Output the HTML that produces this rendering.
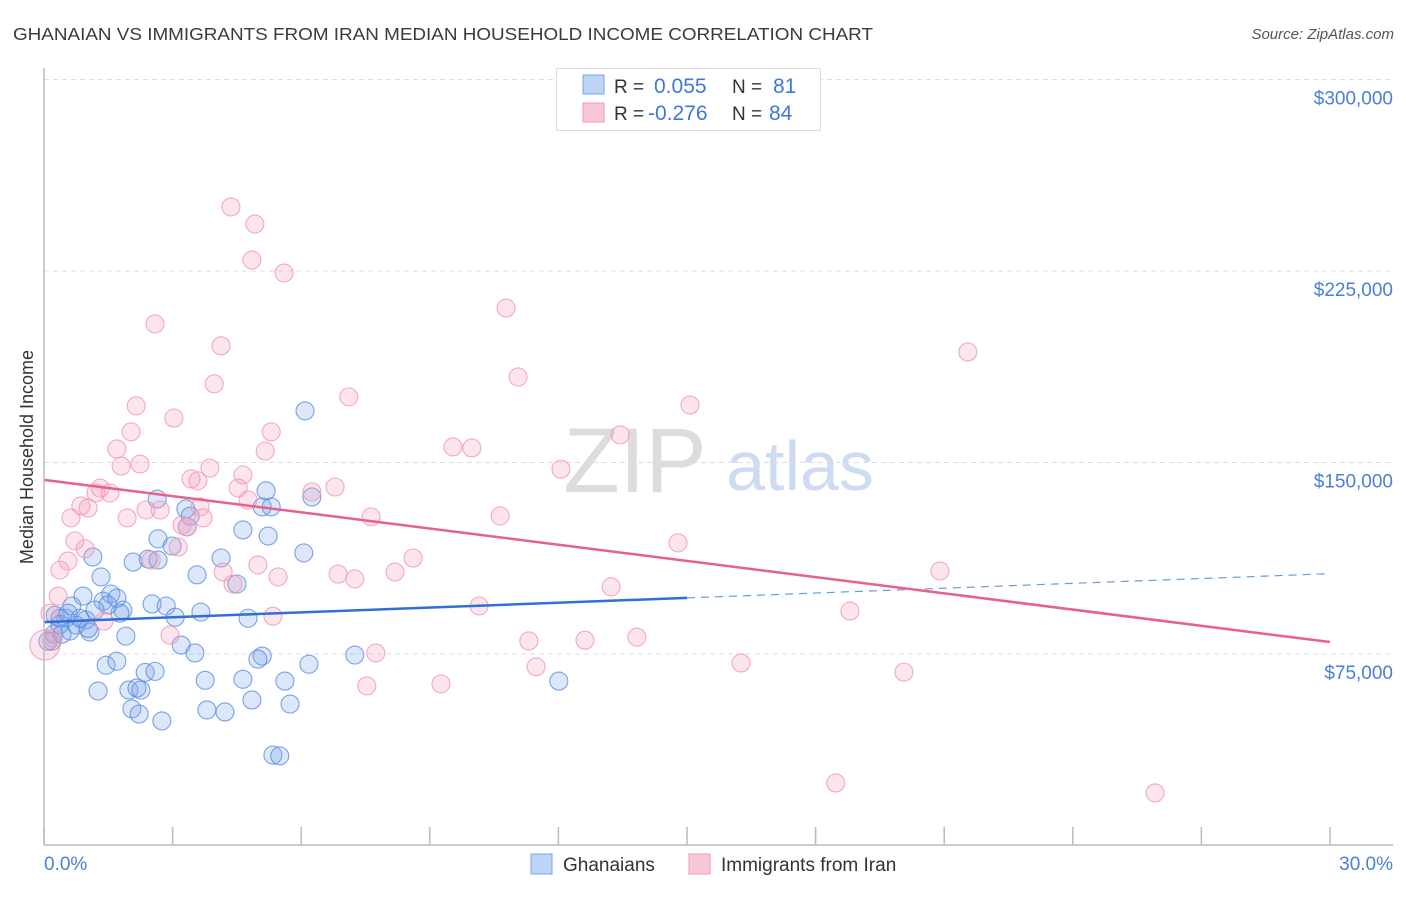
<!DOCTYPE html>
<html><head><meta charset="utf-8"><style>
body{margin:0;background:#fff;font-family:"Liberation Sans",sans-serif;}
svg text{font-family:"Liberation Sans",sans-serif;}
</style></head><body>
<svg id="c" width="1406" height="892" xmlns="http://www.w3.org/2000/svg">
<text x="13" y="40" font-size="17.5" fill="#3a3a3a" textLength="860" lengthAdjust="spacingAndGlyphs">GHANAIAN VS IMMIGRANTS FROM IRAN MEDIAN HOUSEHOLD INCOME CORRELATION CHART</text>
<text x="1394" y="39" font-size="15" fill="#555" font-style="italic" text-anchor="end">Source: ZipAtlas.com</text>
<text x="33" y="457" font-size="18" fill="#333" text-anchor="middle" transform="rotate(-90 33 457)">Median Household Income</text>
<text x="635" y="492" font-size="92" fill="#dcdcdc" font-family="Liberation Serif" text-anchor="middle">ZIP</text>
<text x="800" y="490" font-size="70" fill="#cddcf2" text-anchor="middle">atlas</text>
<g id="grid"></g><g id="pts"></g><g id="lines"></g>
<line x1="44" y1="68" x2="44" y2="845" stroke="#bbb" stroke-width="1.5"/>
<line x1="44" y1="845" x2="1393" y2="845" stroke="#bbb" stroke-width="1.5"/>
<text x="44" y="870" font-size="19" fill="#4a7fd8">0.0%</text>
<text x="1393" y="870" font-size="19" fill="#4a7fd8" text-anchor="end">30.0%</text>
<g>
<rect x="556.5" y="68.5" width="264" height="62" fill="#fff" stroke="#ddd"/>
<rect x="583" y="75" width="21" height="19" fill="#bcd4f5" stroke="#7aa4e4"/>
<rect x="583" y="103" width="21" height="19" fill="#f9c8d6" stroke="#ee9ab4"/>
<text x="614" y="93" font-size="19" fill="#333">R = </text><text x="654" y="93" font-size="21" fill="#3f78d6">0.055</text>
<text x="732" y="93" font-size="19" fill="#333">N = </text><text x="773" y="93" font-size="21" fill="#3f78d6">81</text>
<text x="614" y="120" font-size="19" fill="#333">R = </text><text x="648" y="120" font-size="21" fill="#3f78d6">-0.276</text>
<text x="732" y="120" font-size="19" fill="#333">N = </text><text x="769" y="120" font-size="21" fill="#3f78d6">84</text>
</g>
<rect x="531" y="854" width="21" height="20" fill="#bcd4f5" stroke="#7aa4e4"/>
<text x="563" y="871" font-size="19" fill="#333">Ghanaians</text>
<rect x="689" y="854" width="21" height="20" fill="#f9c8d6" stroke="#ee9ab4"/>
<text x="721" y="871" font-size="19" fill="#333">Immigrants from Iran</text>
</svg>
<script>
const yTicks=[75000,150000,225000,300000];
const yTickLabels=["$75,000","$150,000","$225,000","$300,000"];
const xTicks=[0,3,6,9,12,15,18,21,24,27,30];
const blueX=[6.09,5.18,2.64,3.31,5.09,5.30,6.25,4.64,5.23,3.41,3.34,2.66,2.99,2.08,2.43,4.13,6.06,1.14,1.33,3.57,4.50,0.91,1.56,0.65,1.38,1.84,2.52,2.85,3.66,1.77,3.06,4.76,0.26,0.51,0.98,0.75,1.07,0.23,1.91,0.19,3.20,3.52,7.25,5.09,4.99,6.18,1.45,1.70,2.36,2.59,3.76,4.64,5.62,12.01,1.26,1.98,2.17,2.26,4.85,2.05,3.80,4.22,5.74,2.22,2.75,5.34,5.50,0.37,0.09,0.61,0.84,1.49,0.37,1.03,0.42,0.56,1.19,1.70,2.66];
const blueY=[170.2,138.9,135.7,131.8,132.6,132.6,136.5,123.6,121.2,129.0,124.8,120.1,117.3,111.0,112.2,112.6,114.6,113.0,105.2,106.0,102.4,97.7,98.5,93.8,95.7,92.2,94.6,93.8,91.4,91.0,89.4,89.0,90.2,89.0,88.3,86.3,83.6,82.8,82.0,80.0,78.5,75.4,74.6,74.2,73.0,71.0,70.6,72.2,67.8,68.2,64.7,65.1,64.4,64.4,60.5,60.9,61.7,60.9,57.0,53.5,53.1,52.3,55.4,51.5,48.8,35.4,35.1,89.0,80.0,84.0,89.0,94.2,86.6,85.0,82.8,91.0,92.2,96.9,111.8];
const pinkX=[4.36,4.92,4.85,5.60,2.59,4.13,10.78,3.97,11.06,21.55,7.11,2.15,15.07,3.03,2.03,5.30,13.44,1.70,5.16,9.54,9.98,2.24,1.80,3.87,4.64,12.06,3.43,3.59,1.31,1.54,1.21,4.53,6.25,6.79,0.86,1.03,2.71,2.38,3.64,4.76,0.63,1.94,7.63,10.64,3.22,3.34,0.72,0.96,3.13,2.50,0.56,0.37,8.61,4.99,4.18,4.41,5.46,6.86,7.25,8.19,14.79,20.90,0.33,13.23,10.15,5.34,18.80,1.40,0.14,2.94,11.31,12.62,13.83,7.74,11.48,16.26,20.06,7.53,9.26,0.02,18.47,25.92,0.21,3.71];
const pinkY=[250.1,243.4,229.3,224.2,204.3,195.7,210.5,180.8,183.5,193.3,175.7,172.2,172.5,167.4,162.0,162.0,160.8,155.3,154.5,156.1,155.7,149.4,148.6,147.8,145.1,147.4,143.6,142.8,140.0,138.1,138.1,140.0,138.5,140.4,133.0,132.2,131.4,131.4,132.6,135.3,128.3,128.3,128.7,129.1,125.5,124.8,119.3,116.2,116.9,111.8,111.4,107.9,112.6,109.9,107.1,102.4,105.2,106.3,104.4,107.1,118.5,107.5,97.7,101.3,93.8,89.8,91.8,87.9,91.0,82.4,80.1,80.4,81.6,75.4,70.0,71.5,67.9,62.5,63.3,78.5,24.5,20.6,81.2,128.3];
const blueTrend=[87.5,0.632];
const pinkTrend=[143.2,-2.117];
const blueSolidEnd=15;
const NS="http://www.w3.org/2000/svg";
function sx(p){return 44+p*(1330-44)/30;}
function sy(v){return 845.5-v*191.5/75000;}
function mk(t,a,parent){const e=document.createElementNS(NS,t);for(const k in a)e.setAttribute(k,a[k]);document.getElementById(parent).appendChild(e);return e;}
yTicks.forEach((v,i)=>{
  const g=mk('line',{x1:44,x2:1393,y1:sy(v),y2:sy(v),stroke:'#ddd','stroke-dasharray':'5,4'},'grid');
  
  
  const t=mk('text',{x:1393,y:sy(v)+25,'font-size':19,fill:'#4a7fd8','text-anchor':'end'},'grid');
  t.textContent=yTickLabels[i];
  
  
});
xTicks.forEach(p=>{
  const l=mk('line',{x1:sx(p),x2:sx(p),y1:827,y2:845,stroke:'#bbb','stroke-width':1.5},'grid');
  
  
});
blueX.forEach((x,i)=>{
  const c=mk('circle',{cx:sx(x),cy:sy(blueY[i]*1000),r:9,fill:'rgba(130,170,235,0.28)',stroke:'rgba(80,135,220,0.75)','stroke-width':1.1},'pts');
  
  
});
pinkX.forEach((x,i)=>{
  const c=mk('circle',{cx:sx(x),cy:sy(pinkY[i]*1000),r:(i==79?15:9),fill:'rgba(245,160,185,0.28)',stroke:'rgba(240,150,180,0.8)','stroke-width':1.1},'pts');
  
  
});
const bf=p=>(blueTrend[0]+blueTrend[1]*p)*1000, pf=p=>(pinkTrend[0]+pinkTrend[1]*p)*1000;
let l=mk('line',{x1:sx(0),y1:sy(bf(0)),x2:sx(blueSolidEnd),y2:sy(bf(blueSolidEnd)),stroke:'#2f6fd6','stroke-width':2.5},'lines');


l=mk('line',{x1:sx(blueSolidEnd),y1:sy(bf(blueSolidEnd)),x2:sx(30),y2:sy(bf(30)),stroke:'#6b9be0','stroke-width':1.2,'stroke-dasharray':'8,6'},'lines');


l=mk('line',{x1:sx(0),y1:sy(pf(0)),x2:sx(30),y2:sy(pf(30)),stroke:'#e8608c','stroke-width':2.5},'lines');


</script>
</body></html>
